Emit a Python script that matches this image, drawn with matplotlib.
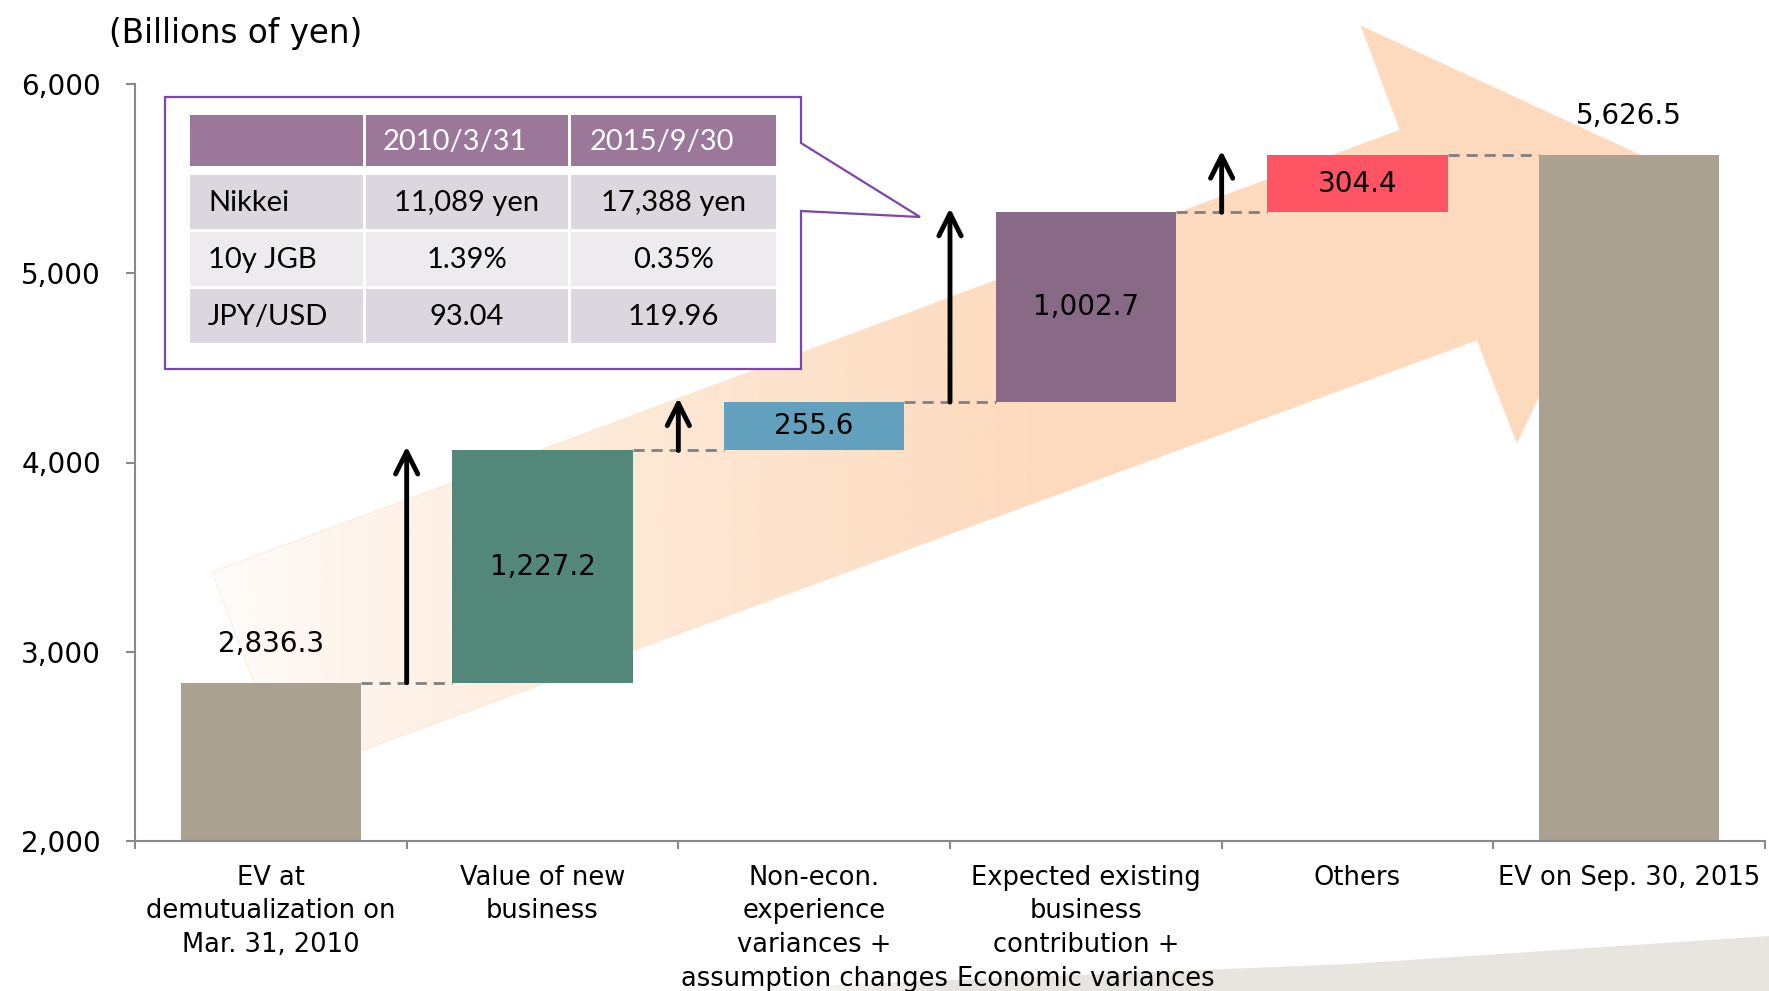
import numpy as np
import matplotlib.pyplot as plt
from matplotlib.patches import Polygon, Rectangle
from matplotlib.ticker import FuncFormatter

plt.rcParams['font.family'] = ['DejaVu Sans']

# ---- data ----
categories = ['EV at\ndemutualization on\nMar. 31, 2010',
              'Value of new\nbusiness',
              'Non-econ.\nexperience\nvariances +\nassumption changes',
              'Expected existing\nbusiness\ncontribution +\nEconomic variances',
              'Others',
              'EV on Sep. 30, 2015']
start_value = 2836.3
changes = [1227.2, 255.6, 1002.7, 304.4]
end_value = 5626.5
bar_colors = ['#aba191', '#53877a', '#63a0bd', '#886a87', '#ff5463', '#aba191']

table_header = ['', '2010/3/31', '2015/9/30']
table_rows = ['Nikkei', '10y JGB', 'JPY/USD']
table_2010 = ['11,089 yen', '1.39%', '93.04']
table_2015 = ['17,388 yen', '0.35%', '119.96']

base = 2000
W, H = 1769, 991

fig = plt.figure(figsize=(W / 100, H / 100), dpi=100)

# background layer in pixel coords (y down)
bg = fig.add_axes([0, 0, 1, 1], zorder=0)
bg.set_xlim(0, W)
bg.set_ylim(H, 0)
bg.axis('off')


def gradient_fill(pts, rgb, x0, x1, a0, a1, power=1.0, edge=None):
    patch = Polygon(pts, closed=True, facecolor='none',
                    edgecolor=edge if edge else 'none', lw=1)
    bg.add_patch(patch)
    xmin = min(p[0] for p in pts)
    xmax = max(p[0] for p in pts)
    ymin = min(p[1] for p in pts)
    ymax = max(p[1] for p in pts)
    xs = np.linspace(xmin, xmax, 400)
    t = np.clip((xs - x0) / (x1 - x0), 0, 1) ** power
    g = np.zeros((1, len(xs), 4))
    g[..., :3] = rgb
    g[..., 3] = a0 + (a1 - a0) * t
    im = bg.imshow(g, extent=(xmin, xmax, ymax, ymin), aspect='auto',
                   interpolation='bilinear', zorder=1)
    im.set_clip_path(patch)


# big peach arrow
arrow_pts = [(212, 572), (1400, 130), (1361, 26), (1651, 160),
             (1517, 443), (1477, 340), (290, 777)]
gradient_fill(arrow_pts, (253 / 255, 218 / 255, 189 / 255), 190, 1050, 0.0, 1.0,
              power=0.75, edge=(0.99, 0.85, 0.74, 0.35))

# grey strip bottom right
strip_pts = [(730, H), (730, 989), (1000, 978), (1350, 964), (1769, 936), (1769, H)]
gradient_fill(strip_pts, (232 / 255, 229 / 255, 224 / 255), 730, 950, 0.0, 1.0)

# callout box with table
callout = Polygon([(165, 97), (801, 97), (801, 143), (920, 217), (801, 211),
                   (801, 369), (165, 369)], closed=True, facecolor='white',
                  edgecolor='#7e44b0', lw=1.6, zorder=3)
bg.add_patch(callout)

col_edges = [(190, 363), (366, 568), (571, 776)]
row_edges = [(115, 166), (175, 229), (232, 286), (289, 343)]
row_fill = ['#9b7899', '#dcd6df', '#eeebef', '#dcd6df']
cells = [table_header] + [[r, a, b] for r, a, b in zip(table_rows, table_2010, table_2015)]
for ri, (y0, y1) in enumerate(row_edges):
    for ci, (x0, x1) in enumerate(col_edges):
        bg.add_patch(Rectangle((x0, y0), x1 - x0, y1 - y0, facecolor=row_fill[ri],
                               edgecolor='none', zorder=4))
        txt = cells[ri][ci]
        if not txt:
            continue
        yc = (y0 + y1) / 2 + 1
        if ri == 0:
            bg.text((x0 + x1) / 2 - 12, yc, txt, color='white', ha='center', va='center',
                    fontsize=21, family='Lato', zorder=5)
        elif ci == 0:
            bg.text(x0 + 18, yc, txt, color='black', ha='left', va='center',
                    fontsize=21, family='Lato', zorder=5)
        else:
            bg.text((x0 + x1) / 2, yc, txt, color='black', ha='center', va='center',
                    fontsize=21, family='Lato', zorder=5)

bg.text(109, 34, '(Billions of yen)', fontsize=23.5, ha='left', va='center')

# ---- main chart ----
ax = fig.add_axes([135 / W, (H - 841) / H, 1630 / W, 757 / H], zorder=1)
ax.patch.set_alpha(0)

levels = np.concatenate([[start_value], start_value + np.cumsum(changes)])
bottoms = np.concatenate([[base], levels[:-1], [base]])
tops = np.concatenate([levels, [end_value]])
heights = tops - bottoms
x = np.arange(len(categories))
bw = 0.665
ax.bar(x, heights, bottom=bottoms, width=bw, color=bar_colors, zorder=2)

# value labels
for xi in [0, len(x) - 1]:
    ax.annotate(f'{tops[xi]:,.1f}', (x[xi], tops[xi]), xytext=(0, 28),
                textcoords='offset points', ha='center', va='center', fontsize=20)
for i, c in enumerate(changes):
    ax.text(x[i + 1], bottoms[i + 1] + c / 2, f'{c:,.1f}', ha='center', va='center',
            fontsize=20, zorder=3)

# dashed connectors
for i in range(len(x) - 1):
    ax.plot([x[i] + bw / 2, x[i + 1] - bw / 2], [tops[i], tops[i]], color='#808080',
            lw=2, ls=(0, (4, 2.5)), zorder=1)

# up arrows between bars
for i in range(len(changes)):
    ax.annotate('', xy=(x[i] + 0.5, levels[i + 1] + 22), xytext=(x[i] + 0.5, levels[i]),
                arrowprops=dict(arrowstyle='->,head_length=0.8,head_width=0.4',
                                lw=3.5, color='black', shrinkA=0, shrinkB=0,
                                mutation_scale=20, capstyle='round', joinstyle='round'),
                zorder=3)

ax.set_xlim(-0.5, len(x) - 0.5)
ax.set_ylim(2000, 6000)
ax.set_yticks(np.arange(2000, 6001, 1000))
ax.yaxis.set_major_formatter(FuncFormatter(lambda v, p: f'{v:,.0f}'))
ax.set_xticks(x)
ax.set_xticklabels(categories, fontsize=18.5, linespacing=1.39)
ax.set_xticks(np.arange(-0.5, len(x), 1), minor=True)
ax.tick_params(axis='x', which='major', length=0, pad=17)
ax.tick_params(axis='x', which='minor', length=6, width=1.5, color='#898989')
ax.tick_params(axis='y', length=6.5, width=1.5, color='#898989', labelsize=20, pad=18)
for s in ['top', 'right']:
    ax.spines[s].set_visible(False)
for s in ['left', 'bottom']:
    ax.spines[s].set_color('#898989')
    ax.spines[s].set_linewidth(1.5)

fig.savefig('out.png', dpi=100)
